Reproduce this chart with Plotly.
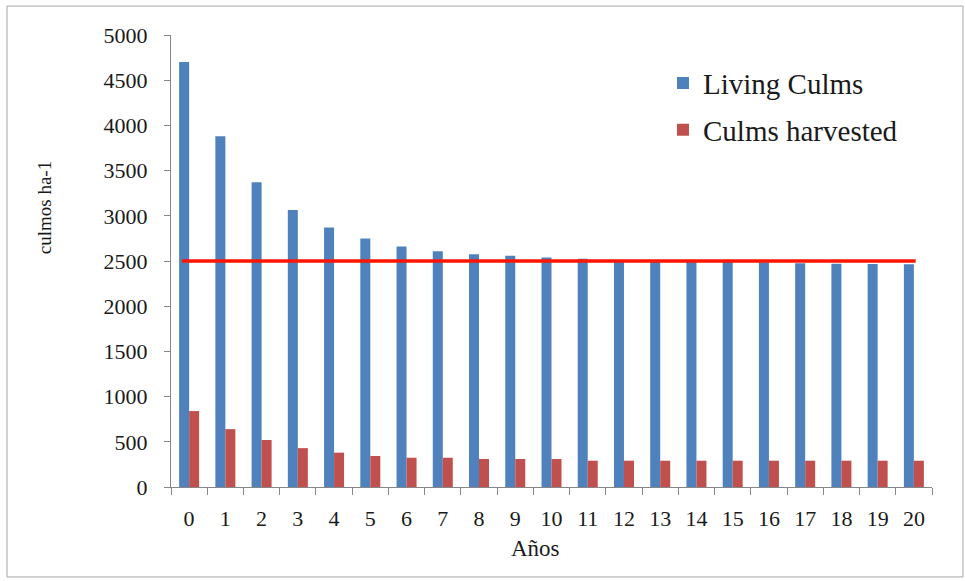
import plotly.graph_objects as go

# Years of the projection
years = [str(y) for y in range(21)]

# Standing culms per hectare
living_culms = [4700, 3880, 3370, 3065, 2870, 2750, 2660, 2608, 2575, 2557,
                2540, 2525, 2510, 2500, 2495, 2490, 2485, 2475, 2470, 2468, 2465]

# Culms harvested per hectare
culms_harvested = [840, 640, 520, 430, 380, 343, 324, 324, 310, 310,
                   310, 291, 291, 291, 291, 291, 291, 291, 291, 291, 291]

# Sustainable stand density reference
target_density = 2500

y_ticks = list(range(0, 5001, 500))

BLUE = "#4F81BD"
RED = "#C0504D"
AXIS_GREY = "#868686"
SERIF = "Liberation Serif, Times New Roman, serif"

fig = go.Figure()
fig.add_trace(go.Bar(x=years, y=living_culms, name="Living Culms",
                     legendgroup="living",
                     marker=dict(color=BLUE, line=dict(width=0))))
fig.add_trace(go.Bar(x=years, y=culms_harvested, name="Culms harvested",
                     legendgroup="harvested",
                     marker=dict(color=RED, line=dict(width=0))))

# Horizontal reference line across the bar groups
fig.add_shape(type="line", xref="x", yref="y",
              x0=0 - 0.2, x1=len(years) - 1 + 0.05,
              y0=target_density, y1=target_density,
              line=dict(color="#FF1500", width=3.5), layer="above")

# Light frame around the whole chart
fig.add_shape(type="rect", xref="paper", yref="paper",
              x0=-0.2155, x1=1.0407, y0=-0.199, y1=1.064,
              line=dict(color="#A6A6A6", width=1), fillcolor="rgba(0,0,0,0)")

fig.add_annotation(text="Años", xref="paper", yref="paper", x=0.4796, y=-0.135,
                   xanchor="center", yanchor="middle", showarrow=False,
                   font=dict(family=SERIF, size=23, color="#1a1a1a"))
fig.add_annotation(text="culmos ha-1", xref="paper", yref="paper", x=-0.1669, y=0.619,
                   xanchor="center", yanchor="middle", textangle=-90, showarrow=False,
                   font=dict(family=SERIF, size=19, color="#1a1a1a"))

fig.update_layout(
    width=965, height=581,
    margin=dict(l=171, r=33, t=35, b=94),
    paper_bgcolor="white", plot_bgcolor="white",
    barmode="group", bargap=0.448, bargroupgap=0,
    font=dict(family=SERIF, color="#1a1a1a"),
    legend=dict(x=0.6465, y=0.95, xanchor="left", yanchor="top",
                font=dict(family=SERIF, size=29, color="#1a1a1a"),
                bgcolor="rgba(0,0,0,0)", traceorder="grouped", tracegroupgap=6),
    showlegend=True,
)

fig.update_xaxes(type="category", range=[-0.5, 20.5],
                 showline=True, linecolor=AXIS_GREY, linewidth=1,
                 ticks="outside", tickson="boundaries", ticklen=7,
                 tickcolor=AXIS_GREY, tickfont=dict(family=SERIF, size=22),
                 ticklabelstandoff=12, showgrid=False, zeroline=False)
fig.update_yaxes(range=[0, 5000], tickvals=y_ticks,
                 showline=True, linecolor=AXIS_GREY, linewidth=1,
                 ticks="outside", ticklen=6, tickcolor=AXIS_GREY,
                 tickfont=dict(family=SERIF, size=22),
                 ticklabelstandoff=12,
                 showgrid=False, zeroline=False)

fig.write_html("out.html")
